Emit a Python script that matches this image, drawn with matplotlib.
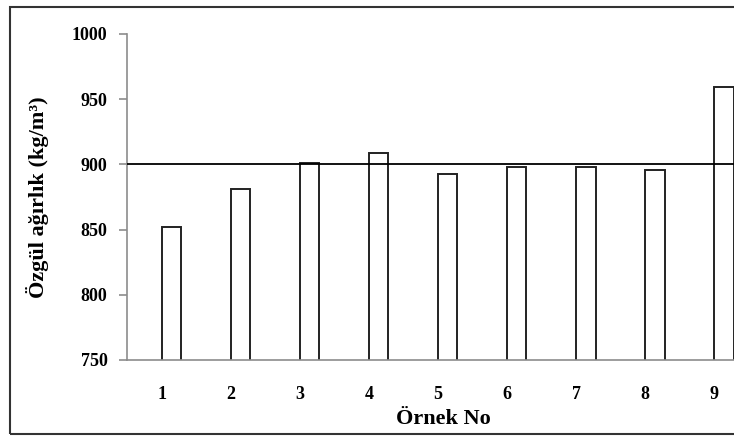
import matplotlib
matplotlib.use('Agg')
import matplotlib.pyplot as plt
from matplotlib.patches import Rectangle

# veriler
ornek_no = ['1', '2', '3', '4', '5', '6', '7', '8', '9']
ozgul_agirlik = [852, 881, 901, 909, 893, 898, 898, 896, 959]
referans = 900

plt.rcParams['font.family'] = ['Liberation Serif', 'DejaVu Serif']
plt.rcParams['font.weight'] = 'bold'

fig = plt.figure(figsize=(7.34, 4.37), dpi=100)
ax = fig.add_axes([127/734, 1 - 360/437, 622/734, 326/437])

x = list(range(1, len(ornek_no) + 1))
ax.bar(x, ozgul_agirlik, width=0.28, align='edge', color='white',
       edgecolor='#222222', linewidth=1.4, zorder=2)
ax.axhline(referans, color='black', linewidth=1.3, zorder=3)

ax.set_xlim(0.5, 9.5)
ax.set_ylim(750, 1000)
ax.set_yticks([750, 800, 850, 900, 950, 1000])
ax.set_xticks(x)
ax.set_xticklabels(ornek_no)

for s in ['top', 'right']:
    ax.spines[s].set_visible(False)
for s in ['left', 'bottom']:
    ax.spines[s].set_color('#8c8c8c')
    ax.spines[s].set_linewidth(1.2)

ax.tick_params(axis='y', direction='out', length=6, width=1.2, color='#8c8c8c',
               pad=8, labelsize=13)
ax.tick_params(axis='x', length=0, pad=19, labelsize=13)

ax.set_ylabel('Özgül ağırlık (kg/m³)', fontsize=16, fontweight='bold')
ax.yaxis.set_label_coords(-0.125, 0.5)
ax.set_xlabel('Örnek No', fontsize=16, fontweight='bold')
ax.xaxis.set_label_coords(0.508, -0.18)
ax.xaxis.label.set_va('center')

# dis cerceve
fig.patches.append(Rectangle((10/734, 3/437), 1.0, 427/437, transform=fig.transFigure,
                             fill=False, edgecolor='#333333', linewidth=1.5))

fig.savefig('out.png', dpi=100)
